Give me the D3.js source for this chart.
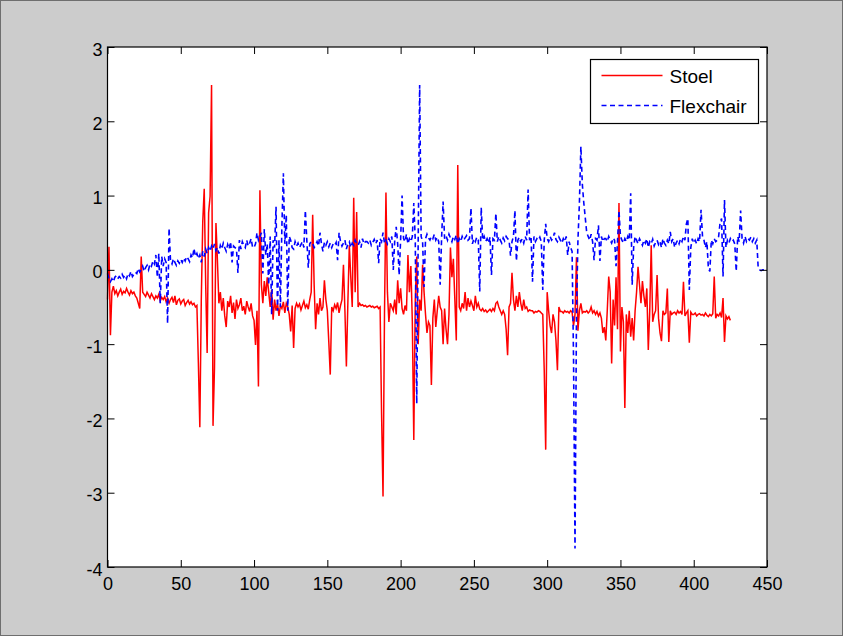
<!DOCTYPE html>
<html>
<head>
<meta charset="utf-8">
<script src="https://cdn.jsdelivr.net/npm/d3@7"></script>
<style>
  html, body { margin: 0; padding: 0; background: #cccccc; }
  svg { display: block; }
  .axis text { font-family: 'Liberation Sans', Arial, sans-serif; font-size: 18px; fill: #000; }
  .axis line { stroke: #000; }
  .legend text { font-family: 'Liberation Sans', Arial, sans-serif; font-size: 19px; fill: #000; }
</style>
</head>
<body>
<svg id="chart" width="843" height="636"></svg>
<script>
const margin = {
  top: 47,
  right: 76,
  bottom: 69,
  left: 107.5,
};

const seriesNames = ['Stoel', 'Flexchair'];
const xTicks = [0, 50, 100, 150, 200, 250, 300, 350, 400, 450];
const yTicks = [-4, -3, -2, -1, 0, 1, 2, 3];

// Stoel, one value per sample (index = x)
const stoel = [
  -0.40, 0.31, -0.88, -0.30, -0.22, -0.32, -0.28, -0.35, -0.30, -0.26,
  -0.33, -0.29, -0.31, -0.25, -0.30, -0.34, -0.28, -0.32, -0.30, -0.35,
  -0.38, -0.45, -0.52, 0.18, -0.30, -0.33, -0.36, -0.30, -0.34, -0.38,
  -0.32, -0.36, -0.40, -0.35, -0.38, -0.33, -0.42, -0.37, -0.40, -0.36,
  -0.43, -0.38, -0.45, -0.40, -0.37, -0.44, -0.35, -0.47, -0.41, -0.39,
  -0.46, -0.42, -0.40, -0.48, -0.44, -0.41, -0.46, -0.43, -0.47, -0.45,
  -0.50, -0.48, -1.25, -2.12, -0.40, 0.65, 1.09, -0.20, -1.12, 0.77,
  0.99, 2.49, -2.10, -1.32, 0.63, 0.13, -0.45, -0.30, -0.55, -0.38,
  -0.62, -0.77, -0.42, -0.50, -0.35, -0.58, -0.44, -0.66, -0.40, -0.52,
  -0.47, -0.38, -0.55, -0.49, -0.60, -0.42, -0.50, -0.56, -0.45, -0.62,
  -0.68, -1.01, -0.55, -1.57, 1.07, -0.20, -0.45, -0.15, -0.35, -0.10,
  -0.30, -0.50, -0.27, -0.67, -0.40, -0.55, -0.45, -0.62, -0.48, -0.52,
  -0.43, -0.58, -0.45, -0.50, -0.60, -0.83, -0.48, -1.05, -0.52, -0.45,
  -0.50, -0.46, -0.54, -0.48, -0.42, -0.51, -0.47, -0.53, -0.40, -0.30,
  0.74, -0.20, -0.80, -0.45, -0.60, -0.38, -0.55, -0.50, -0.14, -0.40,
  -0.55, -0.97, -1.41, -0.50, -0.55, -0.47, -0.52, -0.44, -0.58, -0.48,
  -0.40, 0.07, -0.55, -1.30, -0.45, 0.33, -0.10, -0.50, 0.97, -0.30,
  0.78, -0.50, -0.45, -0.48, -0.47, -0.49, -0.48, -0.50, -0.49, -0.48,
  -0.50, -0.49, -0.51, -0.50, -0.49, -0.52, -0.50, -1.93, -3.05, -0.60,
  1.04, -0.30, -0.70, -0.45, -0.50, -0.55, -0.40, -0.60, -0.14, -0.45,
  -0.25, -0.52, -0.60, -0.48, -0.55, 0.20, -0.30, 0.05, -0.70, -2.29,
  -0.40, 0.18, -1.00, -0.40, -0.55, 0.07, -0.30, -0.60, -0.85, -0.70,
  -0.75, -1.55, -0.65, -0.40, -0.77, -0.55, -0.35, -0.50, -0.55, -1.00,
  -0.52, -0.80, -1.00, -0.60, 0.30, -0.10, 0.15, -0.40, -0.95, 1.41,
  -0.50, -0.55, -0.45, -0.52, -0.30, -0.55, -0.38, -0.50, -0.42, -0.48,
  -0.55, -0.35, -0.50, -0.45, -0.53, -0.55, -0.52, -0.56, -0.54, -0.57,
  -0.55, -0.53, -0.56, -0.52, -0.55, -0.45, -0.43, -0.50, -0.55, -0.60,
  -0.55, -0.60, -0.80, -1.15, -0.50, -0.45, -0.04, -0.40, -0.55, -0.35,
  -0.50, -0.30, -0.45, -0.55, -0.40, -0.52, -0.50, -0.56, -0.54, -0.55,
  -0.55, -0.58, -0.56, -0.57, -0.55, -0.56, -0.58, -0.60, -1.35, -2.42,
  -0.30, -0.55, -0.75, -0.85, -0.60, -0.70, -0.95, -1.35, -0.50, -0.56,
  -0.56, -0.58, -0.55, -0.57, -0.56, -0.58, -0.55, -0.57, -0.75, -0.60,
  0.17, -0.82, -0.55, -0.45, -0.58, -0.56, -0.57, -0.55, -0.58, -0.56,
  -0.50, -0.58, -0.55, -0.60, -0.56, -0.62, -0.58, -0.65, -0.85, -0.77,
  -0.95, -0.55, -0.09, -0.30, -1.26, -0.40, -0.75, -0.10, -0.80, 0.90,
  -1.10, -0.50, -0.70, -1.86, -0.60, -0.85, -0.55, -0.90, -0.65, -0.95,
  -0.55, -0.30, 0.04, -0.20, -0.45, -0.15, -0.35, -0.50, -0.25, -1.08,
  -0.55, 0.33, -0.70, -0.60, -0.55, -0.07, -0.65, -0.85, -0.96, -0.55,
  -0.60, -0.58, -0.25, -0.97, -0.55, -0.60, -0.58, -0.57, -0.60, -0.55,
  -0.58, -0.56, -0.60, -0.16, -0.62, -0.58, -0.55, -0.98, -0.57, -0.60,
  -0.60, -0.58, -0.62, -0.60, -0.59, -0.61, -0.60, -0.62, -0.58, -0.61,
  -0.63, -0.60, -0.62, -0.59, -0.09, -0.65, -0.60, -0.62, -0.58, -0.64,
  -0.38, -0.97, -0.62, -0.66, -0.63, -0.68
];

// Flexchair, one value per sample (index = x)
const flexchair = [
  -0.05, -0.12, -0.16, -0.12, -0.16, -0.10, -0.08, -0.12, -0.09, -0.11,
  -0.06, -0.10, -0.07, -0.12, -0.05, -0.08, -0.02, -0.09, -0.06, -0.03,
  -0.05, 0.02, -0.03, 0.00, 0.05, -0.02, 0.03, 0.06, 0.00, 0.08,
  0.05, 0.12, 0.08, 0.20, -0.10, 0.22, -0.45, 0.18, 0.05, 0.15,
  0.10, -0.72, 0.56, 0.12, 0.08, 0.15, 0.10, 0.06, 0.12, 0.09,
  0.14, 0.10, 0.16, 0.12, 0.18, 0.15, 0.11, 0.20, 0.16, 0.29,
  0.18, 0.22, 0.15, 0.20, 0.10, 0.25, 0.18, 0.28, 0.22, 0.30,
  0.25, 0.32, 0.28, 0.35, 0.26, 0.30, 0.22, 0.33, 0.28, 0.36,
  0.30, 0.25, 0.34, 0.28, 0.38, 0.10, 0.32, 0.30, 0.28, -0.04,
  0.40, 0.28, 0.38, 0.33, 0.30, 0.40, 0.32, 0.36, 0.42, 0.30,
  0.30, 0.35, 0.50, 0.40, 0.45, 0.50, -0.05, 0.55, 0.20, 0.35,
  -0.20, 0.45, -0.60, 0.40, 0.30, 0.85, -0.55, 0.40, -0.50, 0.60,
  1.30, 0.35, 0.74, -0.55, 0.45, 0.40, 0.30, 0.28, 0.38, 0.32,
  0.36, 0.30, 0.34, 0.38, 0.30, 0.80, 0.40, 0.03, 0.35, 0.38,
  0.36, 0.30, 0.33, 0.38, 0.32, 0.50, 0.35, 0.25, 0.37, 0.33,
  0.38, 0.31, 0.36, 0.30, 0.35, 0.33, 0.37, 0.13, 0.50, 0.38,
  0.32, 0.36, 0.40, 0.28, 0.35, 0.38, 0.30, 0.36, 0.33, 0.40,
  0.35, 0.33, 0.38, 0.30, 0.42, 0.35, 0.38, 0.38, 0.36, 0.40,
  0.33, 0.37, 0.41, 0.35, 0.40, 0.09, 0.42, 0.38, 0.50, 0.36,
  0.40, 0.35, 0.42, 0.38, 0.45, 0.00, 0.40, 0.58, 0.35, -0.07,
  0.40, 1.00, 0.42, 0.38, 0.48, 0.35, 0.42, 0.38, 0.45, 0.90,
  0.40, -1.80, 0.40, 2.49, 0.45, 0.38, -0.23, 0.42, 0.48, 0.43,
  0.40, 0.45, 0.42, 0.48, 0.40, 0.44, 0.38, -0.20, 0.45, 0.92,
  0.42, 0.46, 0.40, 0.48, 0.43, 0.38, 0.45, 0.41, 0.47, 0.35,
  0.42, 0.38, 0.45, 0.40, 0.43, 0.46, 0.40, 0.42, 0.83, 0.35,
  0.42, 0.38, 0.44, 0.40, -0.29, 0.84, 0.40, 0.45, 0.38, 0.42,
  0.36, 0.44, -0.07, 0.42, 0.40, 0.76, 0.38, 0.45, 0.40, 0.36,
  0.43, 0.39, 0.45, 0.42, 0.40, 0.19, 0.38, 0.45, 0.80, 0.12,
  0.40, 0.44, 0.38, 0.42, 0.36, 0.45, 0.40, 1.08, 0.40, 0.45,
  -0.16, 0.45, 0.38, 0.42, 0.40, 0.44, 0.38, -0.27, 0.40, 0.62,
  0.42, 0.38, 0.45, 0.40, 0.43, 0.50, 0.41, 0.38, 0.44, 0.40,
  0.36, 0.42, 0.38, 0.45, 0.20, 0.38, 0.30, 0.25, -1.20, -3.75,
  -0.60, 0.40, 0.90, 1.66, 1.15, 0.90, 0.70, 0.50, 0.45, 0.40,
  0.48, 0.38, 0.13, 0.42, 0.40, 0.60, 0.12, 0.45, 0.38, 0.42,
  0.42, 0.38, 0.45, 0.40, 0.36, 0.43, 0.40, 0.05, 0.38, 0.80,
  0.45, 0.40, 0.36, 0.42, 0.38, 0.45, 0.40, 1.03, -0.20, 0.30,
  0.45, 0.40, 0.35, 0.42, 0.38, 0.33, 0.40, 0.36, 0.42, 0.30,
  0.38, 0.35, 0.41, 0.32, 0.37, 0.40, 0.34, 0.38, 0.30, 0.42,
  0.36, 0.33, 0.40, 0.35, 0.51, 0.38, 0.42, 0.30, 0.36, 0.40,
  0.35, 0.42, 0.38, 0.45, 0.40, 0.62, 0.69, -0.27, 0.30, 0.42,
  0.36, 0.40, 0.35, 0.42, 0.38, 0.81, 0.45, 0.40, 0.30, 0.38,
  0.02, -0.02, 0.40, 0.35, 0.42, 0.38, 0.40, 0.45, 0.64, 0.69,
  -0.09, 0.94, 0.30, 0.40, 0.36, 0.42, 0.38, 0.40, 0.35, -0.02,
  0.45, 0.38, 0.80, 0.42, 0.36, 0.45, 0.38, 0.42, 0.40, 0.44,
  0.38, 0.42, 0.36, 0.40, 0.02, 0.00, -0.01, 0.00, 0.00, 0.00
];

const width = 843;
const height = 636;
const actualWidth = width - margin.left - margin.right;
const actualHeight = height - margin.top - margin.bottom;

let root = d3.select('#chart');

// figure background with thin frame
root.append('rect')
  .attr('x', 0.5).attr('y', 0.5)
  .attr('width', width - 1).attr('height', height - 1)
  .attr('fill', '#cccccc')
  .attr('stroke', '#6e6e6e');

let svg = root.append('g')
  .attr('transform', 'translate(' + margin.left + ',' + margin.top + ')');

let x = d3.scaleLinear()
  .domain([0, 450])
  .range([0, actualWidth]);

let y = d3.scaleLinear()
  .domain([-4, 3])
  .range([actualHeight, 0]);

svg.append('rect')
  .attr('width', actualWidth)
  .attr('height', actualHeight)
  .attr('fill', '#ffffff');

let line = d3.line()
  .x(function(d, i) { return x(i); })
  .y(function(d) { return y(d); });

svg.append('path')
  .datum(stoel)
  .attr('fill', 'none')
  .attr('stroke', '#ff0000')
  .attr('stroke-width', 1.5)
  .attr('d', line);

svg.append('path')
  .datum(flexchair)
  .attr('fill', 'none')
  .attr('stroke', '#0000ff')
  .attr('stroke-width', 1.6)
  .attr('stroke-dasharray', '5,3.5')
  .attr('d', line);

// axes, MATLAB style: inward ticks on all four sides
const tickLen = 7;
const fmt = function(d) { return String(d); };

svg.append('g')
  .attr('class', 'x axis')
  .attr('transform', 'translate(0,' + actualHeight + ')')
  .call(d3.axisBottom(x).tickValues(xTicks).tickFormat(fmt)
    .tickSizeInner(-tickLen).tickSizeOuter(0).tickPadding(10));

svg.append('g')
  .attr('class', 'x axis')
  .call(d3.axisTop(x).tickValues(xTicks).tickFormat('')
    .tickSizeInner(-tickLen).tickSizeOuter(0));

svg.append('g')
  .attr('class', 'y axis')
  .call(d3.axisLeft(y).tickValues(yTicks).tickFormat(fmt)
    .tickSizeInner(-tickLen).tickSizeOuter(0).tickPadding(5))
  .selectAll('text')
  .attr('dy', '0.45em');

svg.append('g')
  .attr('class', 'y axis')
  .attr('transform', 'translate(' + actualWidth + ',0)')
  .call(d3.axisRight(y).tickValues(yTicks).tickFormat('')
    .tickSizeInner(-tickLen).tickSizeOuter(0));

svg.selectAll('.axis .domain').remove();

svg.append('rect')
  .attr('width', actualWidth)
  .attr('height', actualHeight)
  .attr('fill', 'none')
  .attr('stroke', '#000')
  .attr('stroke-width', 1.2);

// legend
let legend = root.append('g')
  .attr('class', 'legend')
  .attr('transform', 'translate(590.5,59.5)');

legend.append('rect')
  .attr('width', 168)
  .attr('height', 64)
  .attr('fill', '#ffffff')
  .attr('stroke', '#000')
  .attr('stroke-width', 1.2);

const legendStyles = [
  { color: '#ff0000', dash: null, width: 1.5 },
  { color: '#0000ff', dash: '5,3.5', width: 1.6 },
];

seriesNames.forEach(function(name, i) {
  let rowY = 16 + i * 30;
  legend.append('line')
    .attr('x1', 11).attr('x2', 72)
    .attr('y1', rowY).attr('y2', rowY)
    .attr('stroke', legendStyles[i].color)
    .attr('stroke-width', legendStyles[i].width)
    .attr('stroke-dasharray', legendStyles[i].dash);
  legend.append('text')
    .attr('x', 79)
    .attr('y', rowY + 7)
    .text(name);
});
</script>
</body>
</html>
